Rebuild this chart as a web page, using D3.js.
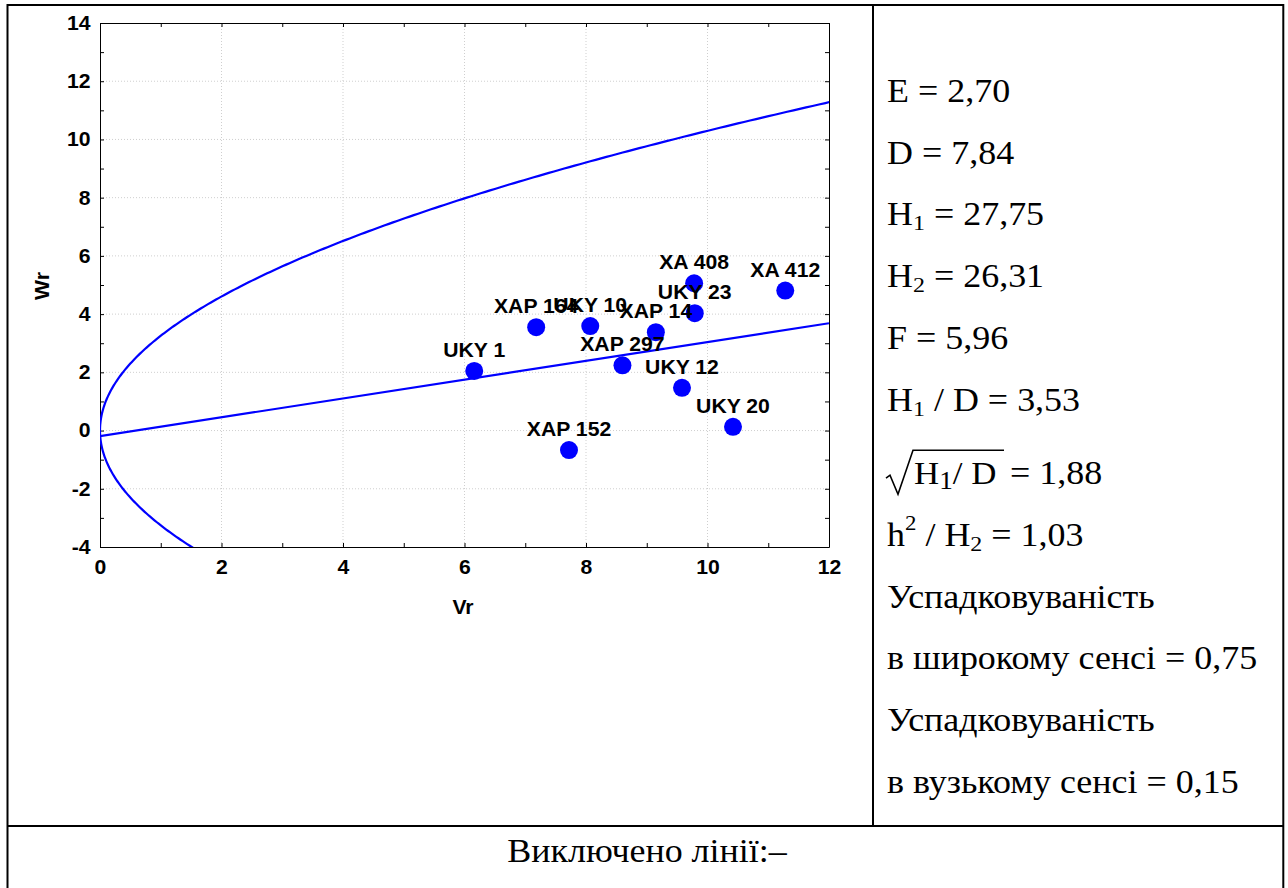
<!DOCTYPE html>
<html>
<head>
<meta charset="utf-8">
<script src="https://cdn.jsdelivr.net/npm/d3@7"></script>
<style>
  body { margin: 0; background: #fff; }
  svg { display: block; }
</style>
</head>
<body>
<div id="chart"></div>
<script>
var width = 1288;
var height = 888;
var pointColor = '#0000ff';
var sansFont = "'Liberation Sans', Arial, sans-serif";
var serifFont = "'Liberation Serif', 'Times New Roman', serif";
var stretch = 'scale(1.06,1)';
var serifStretch = 'scale(1.09,1)';

// lines
var lineNames = ['UKY 1', 'XAP 164', 'UKY 10', 'XAP 14', 'XA 408', 'UKY 23', 'XA 412', 'XAP 297', 'UKY 12', 'UKY 20', 'XAP 152'];
var vrValues  = [6.16, 7.18, 8.07, 9.15, 9.78, 9.79, 11.28, 8.60, 9.58, 10.42, 7.72];
var wrValues  = [2.05, 3.55, 3.59, 3.38, 5.06, 4.03, 4.81, 2.24, 1.47, 0.13, -0.67];

// regression Wr = a + b*Vr and limiting parabola Wr^2 = Vp*Vr
var regression = [-0.19, 0.323];
var parentVariance = 10.6;

// axis ticks
var xTicks = [0, 2, 4, 6, 8, 10, 12];
var yTicks = [-4, -2, 0, 2, 4, 6, 8, 10, 12, 14];

// statistics panel
var statRows = ['E = 2,70', 'D = 7,84', 'H_1 = 27,75', 'H_2 = 26,31', 'F = 5,96', 'H_1 / D = 3,53',
  'SQRT', 'h^2 / H_2 = 1,03', 'Успадковуваність', 'в широкому сенсі = 0,75', 'Успадковуваність', 'в вузькому сенсі = 0,15'];
var sqrtValue = '= 1,88';
var excludedText = 'Виключено лінії:–';

var svg = d3.select('#chart').append('svg')
      .attr('width', width)
      .attr('height', height);

svg.append('rect')
      .attr('width', width)
      .attr('height', height)
      .style('fill', '#fff');

// table borders
var table = svg.append('g')
      .style('stroke', '#000')
      .style('stroke-width', 2)
      .style('fill', 'none');
table.append('path').attr('d', 'M7.5,900 V5 H1283.3 V900');
table.append('line').attr('x1', 873).attr('x2', 873).attr('y1', 5).attr('y2', 826);
table.append('line').attr('x1', 7.5).attr('x2', 1283.3).attr('y1', 826).attr('y2', 826);

// plot area
var plotLeft = 100, plotRight = 829, plotTop = 23, plotBottom = 547;

var xScale = d3.scaleLinear()
      .domain([0, 12])
      .range([plotLeft, plotRight]);

var yScale = d3.scaleLinear()
      .domain([-4, 14])
      .range([plotBottom, plotTop]);

// grid
var grid = svg.append('g')
      .style('stroke', '#cfcfcf')
      .style('stroke-width', 1)
      .style('stroke-dasharray', '1,2');
grid.selectAll('.vgrid')
      .data(xTicks.slice(1, -1))
      .enter().append('line')
      .attr('x1', d => xScale(d)).attr('x2', d => xScale(d))
      .attr('y1', plotTop).attr('y2', plotBottom);
grid.selectAll('.hgrid')
      .data(yTicks.slice(1, -1))
      .enter().append('line')
      .attr('x1', plotLeft).attr('x2', plotRight)
      .attr('y1', d => yScale(d)).attr('y2', d => yScale(d));

// frame with inward ticks on all four sides
var minorX = d3.range(0, 13, 1);
var minorY = d3.range(-4, 15, 1);
function frameAxis(axis, tx, ty) {
      var g = svg.append('g')
            .attr('transform', 'translate(' + tx + ',' + ty + ')')
            .call(axis.tickSize(4).tickSizeOuter(0).tickFormat(''));
      g.select('.domain').style('stroke', '#000');
      g.selectAll('.tick line').style('stroke', '#000');
      return g;
}
frameAxis(d3.axisTop(xScale).tickValues(minorX), 0, plotBottom);
frameAxis(d3.axisBottom(xScale).tickValues(minorX), 0, plotTop);
frameAxis(d3.axisRight(yScale).tickValues(minorY), plotLeft, 0);
frameAxis(d3.axisLeft(yScale).tickValues(minorY), plotRight, 0);

// tick labels (plain hyphen for negatives, like the original)
var plainFormat = d => String(d);
var xAxisGroup = svg.append('g')
      .attr('transform', 'translate(0,' + plotBottom + ')')
      .call(d3.axisBottom(xScale).tickValues(xTicks).tickSize(0).tickPadding(13).tickFormat(plainFormat));
var yAxisGroup = svg.append('g')
      .attr('transform', 'translate(' + plotLeft + ',0)')
      .call(d3.axisLeft(yScale).tickValues(yTicks).tickSize(0).tickPadding(9).tickFormat(plainFormat));
[xAxisGroup, yAxisGroup].forEach(function(g) {
      g.select('.domain').remove();
      g.selectAll('text')
            .attr('transform', stretch)
            .style('font-family', sansFont)
            .style('font-size', '20px')
            .style('font-weight', 'bold')
            .style('fill', '#000');
});

// axis titles
svg.append('text')
      .attr('transform', 'translate(463,614) ' + stretch)
      .style('text-anchor', 'middle')
      .style('font-family', sansFont)
      .style('font-size', '20px')
      .style('font-weight', 'bold')
      .text('Vr');
svg.append('text')
      .attr('transform', 'translate(49,286) rotate(-90) ' + stretch)
      .style('text-anchor', 'middle')
      .style('font-family', sansFont)
      .style('font-size', '20px')
      .style('font-weight', 'bold')
      .text('Wr');

// curves, clipped to the plot
svg.append('clipPath').attr('id', 'plotClip')
      .append('rect')
      .attr('x', plotLeft).attr('y', plotTop)
      .attr('width', plotRight - plotLeft).attr('height', plotBottom - plotTop);
var curves = svg.append('g').attr('clip-path', 'url(#plotClip)');

var parabolaWr = d3.range(-4.2, 11.6, 0.05);
var parabola = d3.line()
      .x(w => xScale(w * w / parentVariance))
      .y(w => yScale(w));
curves.append('path')
      .attr('d', parabola(parabolaWr))
      .style('fill', 'none')
      .style('stroke', pointColor)
      .style('stroke-width', 2.2);

var regLine = d3.line()
      .x(v => xScale(v))
      .y(v => yScale(regression[0] + regression[1] * v));
curves.append('path')
      .attr('d', regLine([0, 12]))
      .style('fill', 'none')
      .style('stroke', pointColor)
      .style('stroke-width', 2.2);

// points and labels
var points = lineNames.map((n, i) => ({ name: n, vr: vrValues[i], wr: wrValues[i] }));
svg.selectAll('.pt')
      .data(points)
      .enter().append('circle')
      .attr('cx', d => xScale(d.vr))
      .attr('cy', d => yScale(d.wr))
      .attr('r', 9)
      .style('fill', pointColor);
svg.selectAll('.lbl')
      .data(points)
      .enter().append('text')
      .attr('transform', d => 'translate(' + xScale(d.vr) + ',' + (yScale(d.wr) - 14) + ') ' + stretch)
      .style('text-anchor', 'middle')
      .style('font-family', sansFont)
      .style('font-size', '20px')
      .style('font-weight', 'bold')
      .text(d => d.name);

// statistics panel
var panel = svg.append('g')
      .style('font-family', serifFont)
      .style('font-size', '33px')
      .style('fill', '#000');

statRows.forEach(function(row, i) {
      var baseline = 102 + i * 61.7 + (i >= 6 ? 12 : 0);
      if (row === 'SQRT') {
            drawSqrt(baseline);
            return;
      }
      var t = panel.append('text')
            .attr('transform', 'translate(887,' + baseline + ') ' + serifStretch);
      var parts = row.split(/(_\d|\^\d)/).filter(p => p.length);
      var shift = 0;
      parts.forEach(function(p) {
            var target = 0, txt = p, size = null;
            if (p[0] === '_') { target = 5; txt = p.slice(1); size = '22px'; }
            if (p[0] === '^') { target = -16; txt = p.slice(1); size = '21px'; }
            var span = t.append('tspan').attr('dy', target - shift).text(txt);
            if (size) span.style('font-size', size);
            shift = target;
      });
});

function drawSqrt(baseline) {
      panel.append('path')
            .attr('d', 'M886,' + (baseline - 6) + ' L890,' + (baseline - 9) + ' L898,' + (baseline + 10) +
                  ' L913,' + (baseline - 34) + ' H1004')
            .style('fill', 'none')
            .style('stroke', '#000')
            .style('stroke-width', 1.6);
      var t = panel.append('text')
            .attr('transform', 'translate(914,' + baseline + ') scale(1.09,1)')
            .style('font-size', '32px');
      t.append('tspan').text('H');
      t.append('tspan').attr('dy', 5).style('font-size', '25px').text('1');
      t.append('tspan').attr('dy', -5).text('/ D');
      panel.append('text')
            .attr('transform', 'translate(1010,' + baseline + ') ' + serifStretch)
            .text(sqrtValue);
}

// excluded lines row
svg.append('text')
      .attr('transform', 'translate(647,862) ' + serifStretch)
      .style('text-anchor', 'middle')
      .style('font-family', serifFont)
      .style('font-size', '33px')
      .text(excludedText);
</script>
</body>
</html>
